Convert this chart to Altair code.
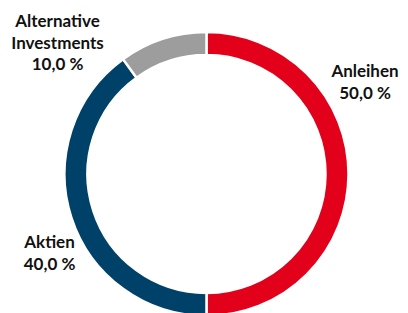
import altair as alt
import pandas as pd

categories = ["Anleihen", "Aktien", "Alternative Investments"]
label_lines = [["Anleihen"], ["Aktien"], ["Alternative", "Investments"]]
values = [50.0, 40.0, 10.0]
colors = ["#e2001a", "#00416a", "#9d9d9d"]

def fmt(v):
    return f"{v:.1f}".replace(".", ",") + " %"

df = pd.DataFrame({
    "cat": categories,
    "value": values,
    "order": list(range(len(categories))),
    "label": ["\n".join(l + [fmt(v)]) for l, v in zip(label_lines, values)],
})

W, H = 392, 320
cx, cy = 198.5, 166

arc = alt.Chart(df).mark_arc(
    innerRadius=119, outerRadius=142, stroke="white", strokeWidth=2.5
).encode(
    theta=alt.Theta("value:Q", stack=True),
    order=alt.Order("order:Q"),
    color=alt.Color("cat:N", scale=alt.Scale(domain=categories, range=colors), legend=None),
    x=alt.value(cx),
    y=alt.value(cy),
)

label_pos = {"Anleihen": (357, 69), "Aktien": (41.5, 240), "Alternative Investments": (49.5, 19)}

layers = [arc]
for c in categories:
    px, py = label_pos[c]
    layers.append(
        alt.Chart(df).transform_filter(alt.datum.cat == c).mark_text(
            font="Lato", fontWeight="bold", fontSize=17, lineHeight=21.5,
            lineBreak="\n", align="center", baseline="alphabetic", color="#111111"
        ).encode(text="label:N", x=alt.value(px), y=alt.value(py))
    )

chart = alt.layer(*layers).properties(
    width=W, height=H, autosize=alt.AutoSizeParams(type="none"), padding=0
).configure_view(stroke=None)

chart.save("out.html", embed_options={"renderer": "svg", "actions": False})
